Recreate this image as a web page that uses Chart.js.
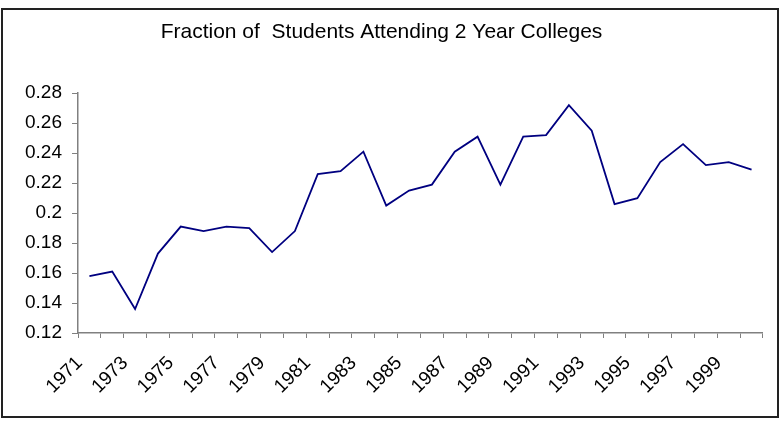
<!DOCTYPE html>
<html lang="en">
<head>
    <meta charset="UTF-8">
    <title>Fraction of Students Attending 2 Year Colleges</title>
    <script src="https://cdn.jsdelivr.net/npm/chart.js"></script>
    <style>
        body { margin: 0; background: #fff; }
        #wrap { width: 782px; height: 432px; }
    </style>
</head>
<body>
    <div id="wrap"><canvas id="chart" width="782" height="432"></canvas></div>

    <script>
        const years = ['1971', '1972', '1973', '1974', '1975', '1976', '1977', '1978', '1979', '1980',
                       '1981', '1982', '1983', '1984', '1985', '1986', '1987', '1988', '1989', '1990',
                       '1991', '1992', '1993', '1994', '1995', '1996', '1997', '1998', '1999', '2000'];
        const fraction = [0.158, 0.161, 0.136, 0.173, 0.191, 0.188, 0.191, 0.190, 0.174, 0.188,
                          0.226, 0.228, 0.241, 0.205, 0.215, 0.219, 0.241, 0.251, 0.219, 0.251,
                          0.252, 0.272, 0.255, 0.206, 0.210, 0.234, 0.246, 0.232, 0.234, 0.229];
        const yTicks = [0.12, 0.14, 0.16, 0.18, 0.2, 0.22, 0.24, 0.26, 0.28];

        const font = "'Liberation Sans', Arial, sans-serif";

        // frame round the whole chart, like the spreadsheet chart border
        const frame = {
            id: 'frame',
            afterDraw(chart) {
                const c = chart.ctx;
                c.save();
                c.strokeStyle = '#222';
                c.lineWidth = 2;
                c.strokeRect(2, 9, 776, 408);
                c.restore();
            }
        };

        new Chart(document.getElementById('chart'), {
            type: 'line',
            data: {
                labels: years,
                datasets: [{
                    label: 'Fraction',
                    data: fraction,
                    borderColor: '#000080',
                    borderWidth: 1.8,
                    pointRadius: 0,
                    tension: 0,
                    fill: false
                }]
            },
            options: {
                responsive: false,
                animation: false,
                layout: { padding: { left: 0, right: 19, top: 0, bottom: 0 } },
                plugins: {
                    legend: { display: false },
                    tooltip: { enabled: false },
                    title: {
                        display: true,
                        text: 'Fraction of  Students Attending 2 Year Colleges',
                        color: '#000',
                        font: { family: font, size: 21, weight: 'normal' },
                        padding: { top: 20, bottom: 48 }
                    }
                },
                scales: {
                    x: {
                        offset: true,
                        grid: { offset: true, drawOnChartArea: false, drawTicks: true, tickLength: 5, color: '#808080' },
                        border: { color: '#808080', width: 1.5 },
                        ticks: {
                            autoSkip: false,
                            minRotation: 45,
                            maxRotation: 45,
                            color: '#000',
                            padding: 14,
                            labelOffset: -10,
                            font: { family: font, size: 19 },
                            callback: (v, i) => (i % 2 === 0 ? years[i] : '')
                        },
                        afterFit: s => { s.height = 99; }
                    },
                    y: {
                        min: 0.12,
                        max: 0.28,
                        grid: { drawOnChartArea: false, drawTicks: true, tickLength: 6, color: '#808080' },
                        border: { color: '#808080', width: 1.5 },
                        afterBuildTicks: s => { s.ticks = yTicks.map(v => ({ value: v })); },
                        ticks: {
                            color: '#000',
                            padding: 10,
                            font: { family: font, size: 19 },
                            callback: v => String(Number(v.toFixed(2)))
                        },
                        afterFit: s => { s.width = 78; }
                    }
                }
            },
            plugins: [frame]
        });
    </script>
</body>
</html>
